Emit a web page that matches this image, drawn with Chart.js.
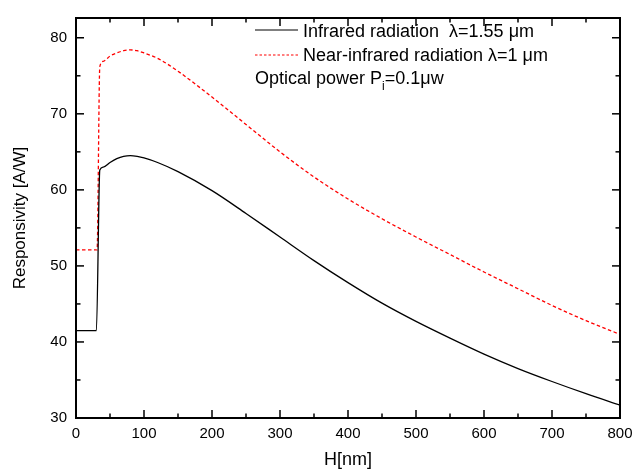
<!DOCTYPE html>
<html>
<head>
<meta charset="utf-8">
<script src="https://cdn.jsdelivr.net/npm/chart.js@4.4.1/dist/chart.umd.min.js"></script>
<style>
  html, body { margin: 0; padding: 0; background: #fff; }
  canvas { display: block; }
</style>
</head>
<body>
<canvas id="chart" width="644" height="472"></canvas>
<script>
// thickness H [nm]
const hValues = [0, 30, 35, 40, 50, 60, 70, 80, 90, 100, 120, 150, 200, 250, 300, 350, 400, 450, 500, 550, 600, 650, 700, 750, 800];
// responsivity [A/W], lambda = 1.55 um
const infrared = [41.5, 41.5, 62.6, 63.0, 63.6, 64.1, 64.4, 64.5, 64.4, 64.2, 63.6, 62.4, 59.9, 56.9, 53.8, 50.7, 47.8, 45.1, 42.7, 40.5, 38.4, 36.5, 34.8, 33.2, 31.7];
// responsivity [A/W], lambda = 1 um
const hNear = [0, 31, 35, 40, 50, 60, 70, 80, 90, 100, 120, 150, 200, 250, 300, 350, 400, 450, 500, 550, 600, 650, 700, 750, 800];
const nearInfrared = [52.1, 52.1, 76.2, 76.9, 77.6, 78.0, 78.3, 78.4, 78.3, 78.0, 77.3, 75.6, 72.2, 68.6, 65.0, 61.7, 58.8, 56.2, 53.8, 51.5, 49.2, 47.0, 44.8, 42.8, 41.0];

const xTicks = [0, 100, 200, 300, 400, 500, 600, 700, 800];
const xMinor = [50, 150, 250, 350, 450, 550, 650, 750];
const yTicks = [30, 40, 50, 60, 70, 80];
const yMinor = [35, 45, 55, 65, 75];

const FONT = "'Liberation Sans', Arial, sans-serif";

const toPoints = (xs, ys) => xs.map((x, i) => ({ x: x, y: ys[i] }));

// box frame with inward ticks, plus the text legend in the top right
const framePlugin = {
  id: 'frame',
  afterDraw(chart) {
    const { ctx, chartArea: a, scales: { x, y } } = chart;
    ctx.save();
    ctx.strokeStyle = '#000';
    ctx.lineWidth = 1.5;
    const tick = (x1, y1, x2, y2) => {
      ctx.beginPath(); ctx.moveTo(x1, y1); ctx.lineTo(x2, y2); ctx.stroke();
    };
    xTicks.forEach(v => {
      const px = x.getPixelForValue(v);
      tick(px, a.bottom, px, a.bottom - 8);
      tick(px, a.top, px, a.top + 8);
    });
    xMinor.forEach(v => {
      const px = x.getPixelForValue(v);
      tick(px, a.bottom, px, a.bottom - 4.5);
      tick(px, a.top, px, a.top + 4.5);
    });
    yTicks.forEach(v => {
      const py = y.getPixelForValue(v);
      tick(a.left, py, a.left + 8, py);
      tick(a.right, py, a.right - 8, py);
    });
    yMinor.forEach(v => {
      const py = y.getPixelForValue(v);
      tick(a.left, py, a.left + 4.5, py);
      tick(a.right, py, a.right - 4.5, py);
    });
    ctx.lineWidth = 2;
    ctx.strokeRect(a.left, a.top, a.right - a.left, a.bottom - a.top);

    // legend
    ctx.lineWidth = 1.2;
    ctx.strokeStyle = '#000';
    tick(255, 30, 298, 30);
    ctx.strokeStyle = '#f00';
    ctx.setLineDash([2.5, 2]);
    tick(255, 55, 298, 55);
    ctx.setLineDash([]);

    ctx.fillStyle = '#000';
    ctx.font = '18px ' + FONT;
    ctx.textBaseline = 'alphabetic';
    ctx.textAlign = 'left';
    ctx.fillText('Infrared radiation  \u03bb=1.55 \u03bcm', 303, 37);
    ctx.fillText('Near-infrared radiation \u03bb=1 \u03bcm', 303, 61);
    const s1 = 'Optical power P';
    ctx.fillText(s1, 255, 84);
    let w = ctx.measureText(s1).width;
    ctx.font = '12px ' + FONT;
    ctx.fillText('i', 255 + w, 90);
    w += ctx.measureText('i').width;
    ctx.font = '18px ' + FONT;
    ctx.fillText('=0.1\u03bcw', 255 + w, 84);
    ctx.restore();
  }
};

new Chart(document.getElementById('chart'), {
  type: 'line',
  data: {
    datasets: [
      {
        label: 'Infrared radiation  \u03bb=1.55 \u03bcm',
        data: toPoints(hValues, infrared),
        borderColor: '#000',
        borderWidth: 1.3,
        pointRadius: 0,
        cubicInterpolationMode: 'monotone',
        fill: false
      },
      {
        label: 'Near-infrared radiation \u03bb=1 \u03bcm',
        data: toPoints(hNear, nearInfrared),
        borderColor: '#f00',
        borderWidth: 1.3,
        borderDash: [3.5, 2.5],
        pointRadius: 0,
        cubicInterpolationMode: 'monotone',
        fill: false
      }
    ]
  },
  options: {
    responsive: false,
    animation: false,
    layout: { padding: { top: 13, right: 24, left: 0, bottom: 0 } },
    plugins: {
      legend: { display: false },
      tooltip: { enabled: false }
    },
    scales: {
      x: {
        type: 'linear',
        min: 0,
        max: 800,
        afterBuildTicks: s => { s.ticks = xTicks.map(v => ({ value: v })); },
        afterFit: s => { s.height = 54; },
        grid: { display: false, drawTicks: false },
        border: { display: false },
        ticks: { padding: 7, color: '#000', maxRotation: 0, font: { family: FONT, size: 15 } },
        title: {
          display: true,
          text: 'H[nm]',
          color: '#000',
          font: { family: FONT, size: 18 },
          padding: { top: 0, bottom: 1 }
        }
      },
      y: {
        type: 'linear',
        min: 30,
        max: 82.6,
        afterBuildTicks: s => { s.ticks = yTicks.map(v => ({ value: v })); },
        afterFit: s => { s.width = 76; },
        grid: { display: false, drawTicks: false },
        border: { display: false },
        ticks: { padding: 9, color: '#000', font: { family: FONT, size: 15 } },
        title: {
          display: true,
          text: 'Responsivity [A/W]',
          color: '#000',
          font: { family: FONT, size: 17 },
          padding: { top: 10, bottom: 0 }
        }
      }
    }
  },
  plugins: [framePlugin]
});
</script>
</body>
</html>
